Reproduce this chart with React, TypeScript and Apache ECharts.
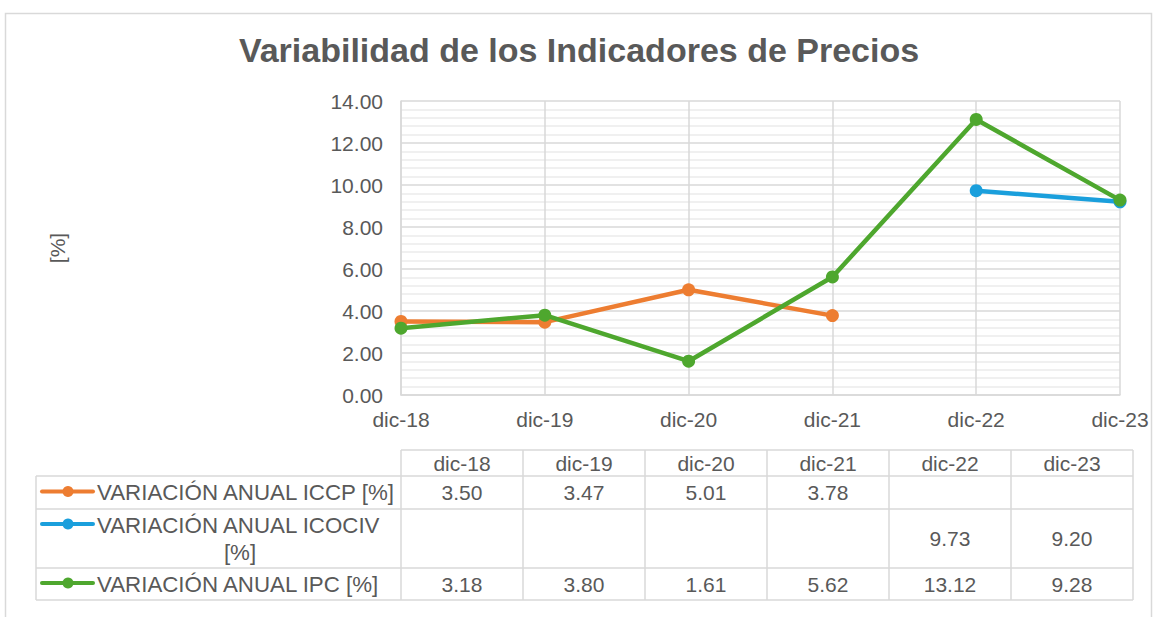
import React, { useEffect, useRef } from "react";
import * as echarts from "echarts";

const categories = ["dic-18", "dic-19", "dic-20", "dic-21", "dic-22", "dic-23"];
const seriesNames = [
  "VARIACIÓN ANUAL ICCP [%]",
  "VARIACIÓN ANUAL ICOCIV [%]",
  "VARIACIÓN ANUAL IPC [%]",
];
const iccp: (number | null)[] = [3.5, 3.47, 5.01, 3.78, null, null];
const icociv: (number | null)[] = [null, null, null, null, 9.73, 9.2];
const ipc: (number | null)[] = [3.18, 3.8, 1.61, 5.62, 13.12, 9.28];
const seriesColors = ["#ED7D31", "#1A9FDC", "#4EA72E"];
const yMin = 0;
const yMax = 14;
const yStep = 2;

const FONT = "'Liberation Sans', Arial, sans-serif";
const TXT = "#595959";
const GRID = "#d9d9d9";
const FS = 21;
const TFS = 22.3;

export default function App() {
  const ref = useRef<HTMLDivElement>(null);
  useEffect(() => {
    if (!ref.current) return;
    const chart = echarts.init(ref.current, undefined, { renderer: "svg" });
    const allSeries = [iccp, icociv, ipc];

    // data table layout
    const tLeft = 36;
    const labelRight = 401;
    const colW = 122;
    const tRight = labelRight + colW * categories.length;
    const headerTop = 450;
    const rowEdges = [476, 509, 568, 600];
    const g: any[] = [];
    const line = (x1: number, y1: number, x2: number, y2: number) =>
      g.push({
        type: "line",
        shape: { x1, y1, x2, y2 },
        style: { stroke: GRID, lineWidth: 1.5 },
        silent: true,
      });
    // outer chart border
    g.push({
      type: "rect",
      shape: { x: 5.5, y: 13.5, width: 1146, height: 620 },
      style: { fill: "none", stroke: "#d9d9d9", lineWidth: 1.5 },
      silent: true,
      z: -1,
    });
    line(labelRight, headerTop, tRight, headerTop);
    rowEdges.forEach((y) => line(tLeft, y, tRight, y));
    line(tLeft, rowEdges[0], tLeft, rowEdges[rowEdges.length - 1]);
    for (let i = 0; i <= categories.length; i++) {
      const x = labelRight + i * colW;
      line(x, headerTop, x, rowEdges[rowEdges.length - 1]);
    }
    categories.forEach((c, i) => {
      g.push({
        type: "text",
        x: labelRight + i * colW + colW / 2,
        y: (headerTop + rowEdges[0]) / 2,
        style: {
          text: c,
          fill: TXT,
          font: `${FS}px ${FONT}`,
          align: "center",
          verticalAlign: "middle",
        },
      });
    });
    allSeries.forEach((data, r) => {
      const top = rowEdges[r];
      const bottom = rowEdges[r + 1];
      const mid = (top + bottom) / 2;
      const keyY = r === 1 ? top + 15 : mid - 1;
      g.push({
        type: "line",
        shape: { x1: 42, y1: keyY, x2: 93, y2: keyY },
        style: { stroke: seriesColors[r], lineWidth: 4, lineCap: "round" },
      });
      g.push({
        type: "circle",
        shape: { cx: 68, cy: keyY, r: 5.5 },
        style: { fill: seriesColors[r] },
      });
      const name = seriesNames[r];
      if (r === 1) {
        const idx = name.lastIndexOf(" ");
        g.push({
          type: "text",
          x: 97,
          y: keyY + 1,
          style: {
            text: name.slice(0, idx),
            fill: TXT,
            font: `${TFS}px ${FONT}`,
            align: "left",
            verticalAlign: "middle",
          },
        });
        g.push({
          type: "text",
          x: 240,
          y: keyY + 28,
          style: {
            text: name.slice(idx + 1),
            fill: TXT,
            font: `${TFS}px ${FONT}`,
            align: "center",
            verticalAlign: "middle",
          },
        });
      } else {
        g.push({
          type: "text",
          x: 97,
          y: mid,
          style: {
            text: name,
            fill: TXT,
            font: `${TFS}px ${FONT}`,
            align: "left",
            verticalAlign: "middle",
          },
        });
      }
      data.forEach((v, i) => {
        if (v == null) return;
        g.push({
          type: "text",
          x: labelRight + i * colW + colW / 2,
          y: mid,
          style: {
            text: v.toFixed(2),
            fill: TXT,
            font: `${FS}px ${FONT}`,
            align: "center",
            verticalAlign: "middle",
          },
        });
      });
    });

    chart.setOption({
      animation: false,
      backgroundColor: "#ffffff",
      title: {
        text: "Variabilidad de los Indicadores de Precios",
        left: "center",
        top: 28,
        textStyle: {
          fontFamily: FONT,
          fontSize: 34,
          fontWeight: "bold",
          color: TXT,
        },
      },
      grid: { left: 401, right: 38, top: 101, bottom: 222 },
      xAxis: {
        type: "category",
        data: categories,
        boundaryGap: false,
        axisLine: { show: true, lineStyle: { color: GRID, width: 1.5 } },
        axisTick: { show: false },
        axisLabel: {
          color: TXT,
          fontFamily: FONT,
          fontSize: FS,
          margin: 14,
        },
        splitLine: { show: true, lineStyle: { color: GRID, width: 1.5 } },
      },
      yAxis: {
        type: "value",
        min: yMin,
        max: yMax,
        interval: yStep,
        name: "[%]",
        nameLocation: "middle",
        nameRotate: 90,
        nameGap: 333,
        nameTextStyle: { color: TXT, fontFamily: FONT, fontSize: FS },
        axisLine: { show: true, lineStyle: { color: GRID, width: 1.5 } },
        axisTick: { show: false },
        axisLabel: {
          color: TXT,
          fontFamily: FONT,
          fontSize: FS,
          margin: 18,
          formatter: (v: number) => v.toFixed(2),
        },
        splitLine: { show: true, lineStyle: { color: GRID, width: 1.5 } },
        minorTick: { show: false, splitNumber: 5 },
        minorSplitLine: { show: true, lineStyle: { color: "#ebebeb", width: 1.5 } },
      },
      series: allSeries.map((data, i) => ({
        name: seriesNames[i],
        type: "line",
        data,
        connectNulls: false,
        symbol: "circle",
        symbolSize: 13,
        lineStyle: { width: 4.5, color: seriesColors[i] },
        itemStyle: { color: seriesColors[i] },
        z: 2 + i,
      })),
      graphic: g,
    });
    return () => chart.dispose();
  }, []);
  return (
    <div
      ref={ref}
      style={{ position: "fixed", left: 0, top: 0, width: 1158, height: 617 }}
    />
  );
}
